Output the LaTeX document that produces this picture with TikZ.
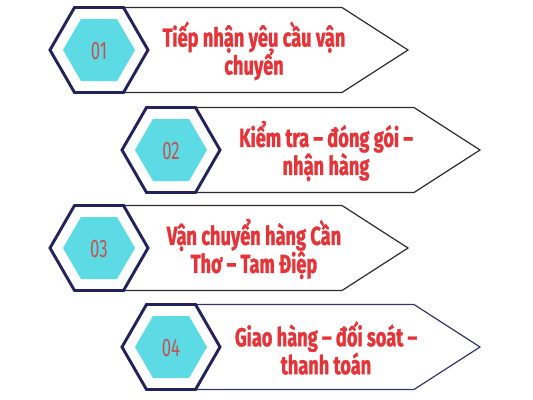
\documentclass[tikz,border=0pt]{standalone}
\usepackage{fontspec}
\newfontfamily\stepfont[FakeStretch=0.7,BoldFeatures={FakeBold=1.2}]{Fira Sans}
\newfontfamily\numfont[FakeStretch=0.66]{Fira Sans}
\newcommand\stepsize{\fontsize{19.5}{21}\selectfont\lineskiplimit=-30pt\relax}
\definecolor{hexnavy}{HTML}{23235B}
\definecolor{hexcyan}{HTML}{5CDBE4}
\definecolor{steptext}{HTML}{E63338}
\definecolor{numtext}{HTML}{C65150}
\definecolor{edgegray}{HTML}{2B2B2B}
\definecolor{edgenavy}{HTML}{34346E}
\begin{document}
\begin{tikzpicture}[x=0.75pt,y=-0.75pt]
  \useasboundingbox (0,0) rectangle (533,400);
  \pgfmathsetmacro\rr{49}
  \pgfmathsetmacro\hh{42.5}
  \pgfmathsetmacro\ri{36}
  \pgfmathsetmacro\hi{31}
  \foreach \n/\cx/\cy/\edge/\txt in {
      1/99/50/edgegray/{Tiếp nhận yêu cầu vận\\chuyển},
      2/171/150/edgegray/{Kiểm tra – đóng gói –\\nhận hàng},
      3/99/248/edgegray/{Vận chuyển hàng Cần\\Thơ – Tam Điệp},
      4/171/347/edgenavy/{Giao hàng – đối soát –\\thanh toán}} {
    \draw[line width=0.9pt,\edge]
      (\cx+24.5,\cy-\hh) -- (\cx+243,\cy-\hh) -- (\cx+309,\cy)
      -- (\cx+243,\cy+\hh) -- (\cx+24.5,\cy+\hh);
    \draw[line width=2.2pt,hexnavy,fill=white,line join=miter]
      (\cx-\rr,\cy) -- (\cx-\rr/2,\cy-\hh) -- (\cx+\rr/2,\cy-\hh)
      -- (\cx+\rr,\cy) -- (\cx+\rr/2,\cy+\hh) -- (\cx-\rr/2,\cy+\hh) -- cycle;
    \fill[hexcyan]
      (\cx-\ri,\cy) -- (\cx-\ri/2,\cy-\hi) -- (\cx+\ri/2,\cy-\hi)
      -- (\cx+\ri,\cy) -- (\cx+\ri/2,\cy+\hi) -- (\cx-\ri/2,\cy+\hi) -- cycle;
    \node[numtext,font=\numfont\fontsize{19}{21}\selectfont] (num\n) at (\cx,\cy+1) {0\n};
    \node[steptext,align=center,font=\stepfont\bfseries\stepsize]
      (text\n) at (\cx+155,\cy+1) {\txt};
  }
\end{tikzpicture}
\end{document}
